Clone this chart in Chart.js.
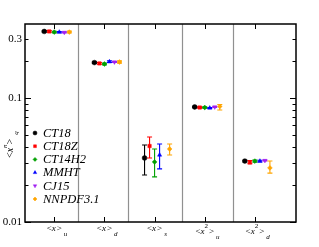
<!DOCTYPE html>
<html>
<head>
<meta charset="utf-8">
<script src="https://cdn.jsdelivr.net/npm/chart.js@4.4.1/dist/chart.umd.min.js"></script>
<style>
  html, body { margin: 0; padding: 0; background: #fff; }
  #wrap { width: 319px; height: 247px; }
</style>
</head>
<body>
<div id="wrap"><canvas id="chart"></canvas></div>
<script>
// moments: <x>_u, <x>_d, <x>_s, <x^2>_u, <x^2>_d
const categories = [
    { base: 'x', sup: '', sub: 'u' },
    { base: 'x', sup: '', sub: 'd' },
    { base: 'x', sup: '', sub: 's' },
    { base: 'x', sup: '2', sub: 'u' },
    { base: 'x', sup: '2', sub: 'd' }
];
const pdfSets = ['CT18', 'CT18Z', 'CT14H2', 'MMHT', 'CJ15', 'NNPDF3.1'];

// central values
const ct18    = [0.344, 0.193, 0.0328, 0.0846, 0.0310];
const ct18z   = [0.344, 0.190, 0.0410, 0.0838, 0.0302];
const ct14h2  = [0.340, 0.188, 0.0305, 0.0838, 0.0310];
const mmht    = [0.340, 0.196, 0.0347, 0.0830, 0.0310];
const cj15    = [0.338, 0.195, null,   0.0846, 0.0313];
const nnpdf31 = [0.340, 0.195, 0.0388, 0.0855, 0.0273];

// error band edges
const ct18Lo    = [0.339, 0.190, 0.0239, 0.0836, 0.0305];
const ct18Hi    = [0.349, 0.196, 0.0418, 0.0856, 0.0315];
const ct18zLo   = [0.339, 0.187, 0.0328, 0.0828, 0.0295];
const ct18zHi   = [0.349, 0.193, 0.0485, 0.0848, 0.0313];
const ct14h2Lo  = [0.335, 0.185, 0.0231, 0.0828, 0.0304];
const ct14h2Hi  = [0.345, 0.191, 0.0388, 0.0848, 0.0316];
const mmhtLo    = [0.336, 0.193, 0.0268, 0.0822, 0.0305];
const mmhtHi    = [0.344, 0.199, 0.0426, 0.0838, 0.0315];
const cj15Lo    = [0.335, 0.193, null,   0.0840, 0.0310];
const cj15Hi    = [0.341, 0.197, null,   0.0852, 0.0316];
const nnpdf31Lo = [0.334, 0.191, 0.0347, 0.0800, 0.0248];
const nnpdf31Hi = [0.346, 0.199, 0.0426, 0.0885, 0.0310];

// y-axis ticks (log)
const yTicks = [0.01, 0.02, 0.03, 0.04, 0.05, 0.06, 0.07, 0.08, 0.09, 0.1, 0.2, 0.3];
const yLabels = { 0.01: '0.01', 0.1: '0.1', 0.3: '0.3' };
// gray vertical separators between moments
const dividers = [1.48, 2.46, 3.54, 4.57];

const series = [
    { name: pdfSets[0], vals: ct18,    lo: ct18Lo,    hi: ct18Hi,    color: '#000000', style: 'circle',   rot: 0,   off: -0.2 },
    { name: pdfSets[1], vals: ct18z,   lo: ct18zLo,   hi: ct18zHi,   color: '#ff0000', style: 'rect',     rot: 0,   off: -0.1 },
    { name: pdfSets[2], vals: ct14h2,  lo: ct14h2Lo,  hi: ct14h2Hi,  color: '#00a000', style: 'rectRot',  rot: 0,   off: 0 },
    { name: pdfSets[3], vals: mmht,    lo: mmhtLo,    hi: mmhtHi,    color: '#0000ff', style: 'triangle', rot: 0,   off: 0.1 },
    { name: pdfSets[4], vals: cj15,    lo: cj15Lo,    hi: cj15Hi,    color: '#a020f0', style: 'triangle', rot: 180, off: 0.2 },
    { name: pdfSets[5], vals: nnpdf31, lo: nnpdf31Lo, hi: nnpdf31Hi, color: '#ffa500', style: 'rect',     rot: 45,  off: 0.3 }
];

const datasets = series.map(s => ({
    label: s.name,
    data: s.vals
        .map((v, i) => ({ x: i + 1 + s.off, y: v, lo: s.lo[i], hi: s.hi[i] }))
        .filter(p => p.y !== null),
    backgroundColor: s.color,
    borderColor: s.color,
    pointStyle: s.style,
    rotation: s.rot,
    pointRadius: 2.4,
    borderWidth: 0.5,
    showLine: false
}));

const serif = "'Liberation Serif', 'DejaVu Serif', serif";

// error bars, separators, frame, inward ticks, labels, legend
const decorations = {
    id: 'decorations',
    beforeDatasetsDraw(chart) {
        const { ctx, chartArea: a, scales: { x, y } } = chart;
        ctx.save();
        ctx.strokeStyle = '#909090';
        ctx.lineWidth = 1.2;
        dividers.forEach(d => {
            const px = Math.round(x.getPixelForValue(d)) + 0.5;
            ctx.beginPath(); ctx.moveTo(px, a.top); ctx.lineTo(px, a.bottom); ctx.stroke();
        });
        // error bars
        chart.data.datasets.forEach(ds => {
            ctx.strokeStyle = ds.borderColor;
            ctx.lineWidth = 1.1;
            ds.data.forEach(p => {
                const px = x.getPixelForValue(p.x);
                const y1 = y.getPixelForValue(p.lo), y2 = y.getPixelForValue(p.hi);
                ctx.beginPath();
                ctx.moveTo(px, y1); ctx.lineTo(px, y2);
                ctx.moveTo(px - 2.5, y1); ctx.lineTo(px + 2.5, y1);
                ctx.moveTo(px - 2.5, y2); ctx.lineTo(px + 2.5, y2);
                ctx.stroke();
            });
        });
        ctx.restore();
    },
    afterDraw(chart) {
        const { ctx, chartArea: a, scales: { x, y } } = chart;
        ctx.save();
        // frame
        ctx.strokeStyle = '#000';
        ctx.lineWidth = 1.5;
        ctx.strokeRect(a.left, a.top, a.right - a.left, a.bottom - a.top);
        // y ticks, inward on both sides
        ctx.lineWidth = 1;
        yTicks.forEach(t => {
            const py = Math.round(y.getPixelForValue(t)) + 0.5;
            const len = (t === 0.01 || t === 0.1) ? 6 : 3.5;
            ctx.beginPath();
            ctx.moveTo(a.left, py); ctx.lineTo(a.left + len, py);
            ctx.moveTo(a.right, py); ctx.lineTo(a.right - len, py);
            ctx.stroke();
        });
        // y tick labels
        ctx.fillStyle = '#000';
        ctx.font = '11px ' + serif;
        ctx.textAlign = 'right';
        ctx.textBaseline = 'middle';
        Object.keys(yLabels).forEach(k => {
            ctx.fillText(yLabels[k], a.left - 3, y.getPixelForValue(Number(k)));
        });
        // x ticks top and bottom, inward
        categories.forEach((c, i) => {
            const px = Math.round(x.getPixelForValue(i + 1)) + 0.5;
            ctx.beginPath();
            ctx.moveTo(px, a.top); ctx.lineTo(px, a.top + 5);
            ctx.moveTo(px, a.bottom); ctx.lineTo(px, a.bottom - 5);
            ctx.stroke();
        });
        // x labels  <x>_q  /  <x^2>_q
        ctx.textBaseline = 'alphabetic';
        categories.forEach((c, i) => {
            const cx = x.getPixelForValue(i + 1);
            const base = a.bottom + (c.sup ? 12 : 9);
            ctx.font = '9px ' + serif;
            const w1 = ctx.measureText('<').width;
            ctx.font = 'italic 9px ' + serif;
            const wx = ctx.measureText(c.base).width;
            ctx.font = '7px ' + serif;
            const ws = c.sup ? ctx.measureText(c.sup).width : 0;
            const total = w1 * 2 + wx + ws + 1;
            let px = cx - total / 2;
            ctx.textAlign = 'left';
            ctx.font = '9px ' + serif;
            ctx.fillText('<', px, base); px += w1;
            ctx.font = 'italic 9px ' + serif;
            ctx.fillText(c.base, px, base); px += wx;
            if (c.sup) {
                ctx.font = '7px ' + serif;
                ctx.fillText(c.sup, px, base - 6); px += ws;
            }
            ctx.font = '9px ' + serif;
            ctx.fillText('>', px + 1, base); px += w1 + 3;
            ctx.font = 'italic 7px ' + serif;
            ctx.fillText(c.sub, px, base + 5);
        });
        // y axis title <x^n>_q, rotated
        ctx.save();
        ctx.translate(13, 158);
        ctx.rotate(-Math.PI / 2);
        ctx.textAlign = 'left';
        ctx.font = '10px ' + serif;
        ctx.fillText('<', 0, 0);
        let tx = ctx.measureText('<').width;
        ctx.font = 'italic 10px ' + serif;
        ctx.fillText('x', tx, 0); tx += ctx.measureText('x').width;
        ctx.font = 'italic 7px ' + serif;
        ctx.fillText('n', tx, -6); tx += ctx.measureText('n').width;
        ctx.font = '10px ' + serif;
        ctx.fillText('>', tx, 0); tx += ctx.measureText('>').width + 4;
        ctx.font = 'italic 7px ' + serif;
        ctx.fillText('q', tx, 5);
        ctx.restore();
        // legend inside the plot
        ctx.font = 'italic 12.5px ' + serif;
        ctx.textAlign = 'left';
        ctx.textBaseline = 'middle';
        chart.data.datasets.forEach((ds, i) => {
            const ly = a.top + 109 + i * 13.2;
            ctx.fillStyle = ds.backgroundColor;
            ctx.strokeStyle = ds.borderColor;
            ctx.lineWidth = 0.5;
            Chart.helpers.drawPoint(ctx, { pointStyle: ds.pointStyle, rotation: ds.rotation, radius: 2, borderWidth: 0.5 }, a.left + 10, ly);
            ctx.fillStyle = '#000';
            ctx.fillText(ds.label, a.left + 18, ly + 0.5);
        });
        ctx.restore();
    }
};

new Chart(document.getElementById('chart'), {
    type: 'scatter',
    data: { datasets: datasets },
    options: {
        responsive: true,
        maintainAspectRatio: false,
        animation: false,
        layout: { padding: { left: 0, right: 23, top: 24, bottom: 0 } },
        plugins: { legend: { display: false }, tooltip: { enabled: false } },
        scales: {
            x: {
                type: 'linear', min: 0.416, max: 5.82,
                grid: { display: false }, border: { display: false },
                ticks: { display: false },
                afterFit: scale => { scale.height = 25; }
            },
            y: {
                type: 'logarithmic', min: 0.01, max: 0.395,
                grid: { display: false }, border: { display: false },
                ticks: { display: false },
                afterFit: scale => { scale.width = 25; }
            }
        }
    },
    plugins: [decorations]
});
</script>
</body>
</html>
